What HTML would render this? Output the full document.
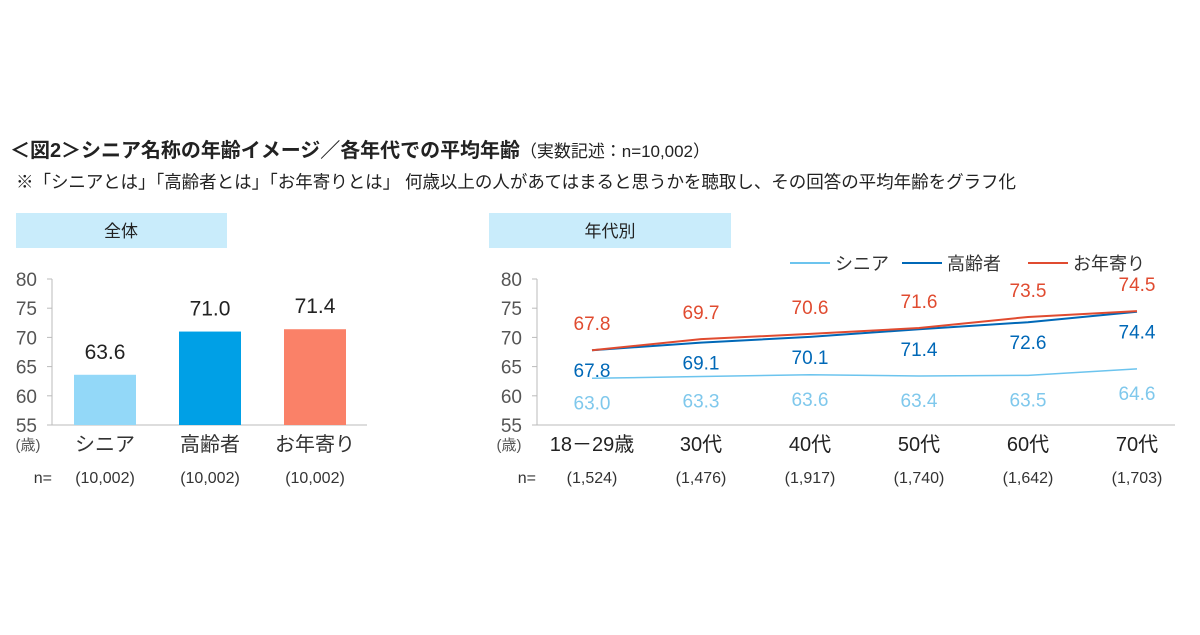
<!DOCTYPE html>
<html><head><meta charset="utf-8"><style>
body{margin:0;background:#fff;width:1200px;height:630px;overflow:hidden;font-family:"Liberation Sans","Noto Sans CJK JP",sans-serif}
svg text{font-family:"Liberation Sans","Noto Sans CJK JP",sans-serif}
</style></head><body>
<svg id="s" width="1200" height="630">
<text x="10" y="157" font-size="20" font-weight="bold" fill="#222" textLength="700">＜図2＞シニア名称の年齢イメージ／各年代での平均年齢<tspan font-size="17" font-weight="normal">（実数記述：n=10,002）</tspan></text>
<text x="16" y="188" font-size="17.5" fill="#222" textLength="1000">※「シニアとは」「高齢者とは」「お年寄りとは」 何歳以上の人があてはまると思うかを聴取し、その回答の平均年齢をグラフ化</text>
<rect x="16" y="213" width="211" height="35" fill="#c9ecfb"/>
<text x="121" y="237" font-size="17" text-anchor="middle" fill="#222">全体</text>
<rect x="489" y="213" width="242" height="35" fill="#c9ecfb"/>
<text x="610" y="237" font-size="17" text-anchor="middle" fill="#222">年代別</text>
<g id="left"></g><g id="right"></g>
</svg>
<script>
const barCats=["シニア","高齢者","お年寄り"];
const barVals=[63.6,71.0,71.4];
const barN=["(10,002)","(10,002)","(10,002)"];
const yTicks=[55,60,65,70,75,80];
const ageCats=["18－29歳","30代","40代","50代","60代","70代"];
const ageN=["(1,524)","(1,476)","(1,917)","(1,740)","(1,642)","(1,703)"];
const seniorVals=[63.0,63.3,63.6,63.4,63.5,64.6];
const elderlyVals=[67.8,69.1,70.1,71.4,72.6,74.4];
const oldVals=[67.8,69.7,70.6,71.6,73.5,74.5];
const NS="http://www.w3.org/2000/svg";
function mk(p,t,a,txt){const e=document.createElementNS(NS,t);for(const k in a)e.setAttribute(k,a[k]);if(txt!==undefined)e.textContent=txt;p.appendChild(e);return e;}
const y=v=>425-(v-55)*5.84;
// left
const L=document.getElementById('left');
let e=mk(L,'line',{x1:52,y1:279,x2:52,y2:425,stroke:'#bbb'});

e=mk(L,'line',{x1:52,y1:425,x2:367,y2:425,stroke:'#bbb'});

yTicks.forEach(t=>{
 e=mk(L,'line',{x1:47,y1:y(t),x2:52,y2:y(t),stroke:'#bbb'});
 
 e=mk(L,'text',{x:37,y:y(t)+7,'font-size':19,'text-anchor':'end',fill:'#555'},t);
 
});
e=mk(L,'text',{x:28,y:450,'font-size':15,'text-anchor':'middle',fill:'#555'},'(歳)');

e=mk(L,'text',{x:52,y:483,'font-size':16,'text-anchor':'end',fill:'#333'},'n=');

const colors=["#93d8f8","#00a0e6","#fa8168"];
const bcx=[105,210,315];
barVals.forEach((v,i)=>{
 e=mk(L,'rect',{x:bcx[i]-31,y:y(v),width:62,height:425-y(v),fill:colors[i]});
 
 e=mk(L,'text',{x:bcx[i],y:y(v)-16,'font-size':21,'text-anchor':'middle',fill:'#222'},v.toFixed(1));
 
 e=mk(L,'text',{x:bcx[i],y:451,'font-size':20,'text-anchor':'middle',fill:'#333'},barCats[i]);
 
 e=mk(L,'text',{x:bcx[i],y:483,'font-size':16,'text-anchor':'middle',fill:'#333'},barN[i]);
 
});
// right
const R=document.getElementById('right');
const x=i=>592+i*109;
e=mk(R,'line',{x1:537,y1:279,x2:537,y2:425,stroke:'#bbb'});

e=mk(R,'line',{x1:537,y1:425,x2:1175,y2:425,stroke:'#bbb'});

yTicks.forEach(t=>{
 e=mk(R,'line',{x1:532,y1:y(t),x2:537,y2:y(t),stroke:'#bbb'});
 
 e=mk(R,'text',{x:522,y:y(t)+7,'font-size':19,'text-anchor':'end',fill:'#555'},t);
 
});
e=mk(R,'text',{x:509,y:450,'font-size':15,'text-anchor':'middle',fill:'#555'},'(歳)');

e=mk(R,'text',{x:536,y:483,'font-size':16,'text-anchor':'end',fill:'#333'},'n=');

ageCats.forEach((c,i)=>{
 e=mk(R,'text',{x:x(i),y:451,'font-size':20,'text-anchor':'middle',fill:'#222'},c);
 
 e=mk(R,'text',{x:x(i),y:483,'font-size':16,'text-anchor':'middle',fill:'#333'},ageN[i]);
 
});
const series=[
 {name:'senior',vals:seniorVals,color:'#6cc4ee',tc:'#7fc8ec',off:31},
 {name:'elderly',vals:elderlyVals,color:'#0068b7',tc:'#0068b7',off:27},
 {name:'old',vals:oldVals,color:'#e04b30',tc:'#e04b30',off:-20}];
series.forEach(s=>{
 e=mk(R,'polyline',{points:s.vals.map((v,i)=>x(i)+','+y(v)).join(' '),fill:'none',stroke:s.color,'stroke-width':s.name==='senior'?1.5:2});
 
 s.vals.forEach((v,i)=>{
  e=mk(R,'text',{x:x(i),y:y(v)+s.off,'font-size':19,'text-anchor':'middle',fill:s.tc},v.toFixed(1));
  
 });
});
const leg=[["シニア","#6cc4ee",790],["高齢者","#0068b7",902],["お年寄り","#e04b30",1028]];
leg.forEach(l=>{
 e=mk(R,'line',{x1:l[2],y1:263,x2:l[2]+40,y2:263,stroke:l[1],'stroke-width':2});
 
 e=mk(R,'text',{x:l[2]+45,y:270,'font-size':18,fill:'#333'},l[0]);
 
});
</script>
</body></html>
